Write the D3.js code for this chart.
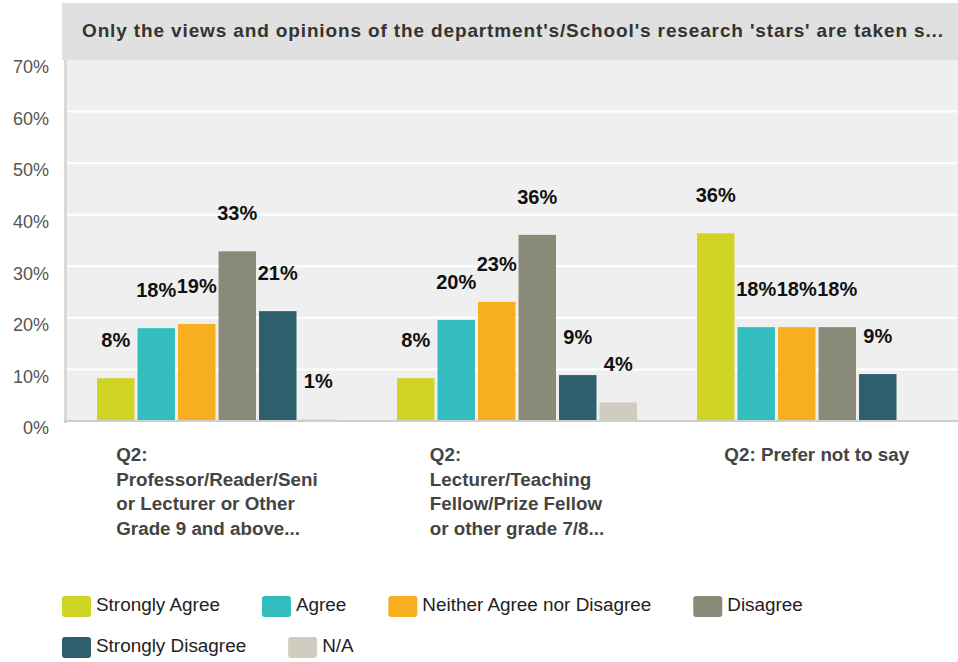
<!DOCTYPE html>
<html>
<head>
<meta charset="utf-8">
<script src="https://cdn.jsdelivr.net/npm/d3@7"></script>
<style>
  html, body { margin: 0; padding: 0; background: #ffffff; }
  svg { display: block; font-family: "Liberation Sans", Arial, Helvetica, sans-serif; }
</style>
</head>
<body>
<svg id="chart" width="958" height="662"></svg>
<script>
const title = "Only the views and opinions of the department's/School's research 'stars' are taken s...";
const groups = ["Q2: Professor/Reader/Senior Lecturer or Other Grade 9 and above...",
                "Q2: Lecturer/Teaching Fellow/Prize Fellow or other grade 7/8...",
                "Q2: Prefer not to say"];
const groupLabelLines = [
  ["Q2:", "Professor/Reader/Seni", "or Lecturer or Other", "Grade 9 and above..."],
  ["Q2:", "Lecturer/Teaching", "Fellow/Prize Fellow", "or other grade 7/8..."],
  ["Q2: Prefer not to say"]
];
const seriesNames = ["Strongly Agree", "Agree", "Neither Agree nor Disagree", "Disagree", "Strongly Disagree", "N/A"];
const seriesColors = ["#d0d426", "#33bdbf", "#f7ae20", "#898a78", "#2d5f6c", "#cfcdbf"];
// values in percent, per series, per group
const stronglyAgree    = [8.3, 8.3, 36.4];
const agree            = [18.0, 19.6, 18.2];
const neither          = [18.8, 23.1, 18.2];
const disagree         = [32.9, 36.1, 18.2];
const stronglyDisagree = [21.3, 8.9, 9.1];
const notApplicable    = [0.3, 3.6, null];
const valueLabels = [
  ["8%", "18%", "19%", "33%", "21%", "1%"],
  ["8%", "20%", "23%", "36%", "9%", "4%"],
  ["36%", "18%", "18%", "18%", "9%", null]
];
const yTicks = [0, 10, 20, 30, 40, 50, 60, 70];

const seriesValues = [stronglyAgree, agree, neither, disagree, stronglyDisagree, notApplicable];

const svg = d3.select("#chart");
const plotLeft = 64, plotRight = 958, plotTop = 60, plotBottom = 421;

// Title band
svg.append("rect").attr("x", 62).attr("y", 3).attr("width", 958 - 62).attr("height", plotTop - 3)
  .attr("fill", "#e0e0e0");
svg.append("text").attr("x", 82).attr("y", 37)
  .attr("font-size", 19).attr("font-weight", "bold").attr("fill", "#333")
  .attr("textLength", 861).attr("lengthAdjust", "spacing")
  .text(title);

// Plot background
svg.append("rect").attr("x", plotLeft).attr("y", plotTop)
  .attr("width", plotRight - plotLeft).attr("height", plotBottom - plotTop)
  .attr("fill", "#efefef");

const y = d3.scaleLinear().domain([0, 70]).range([plotBottom, plotTop]);
const x0 = d3.scaleBand().domain(groups).range([67, 967]).paddingInner(0).paddingOuter(0);
const x1 = d3.scaleBand().domain(seriesNames).range([30, 270]).paddingInner(0.075).paddingOuter(0);

// gridlines
svg.append("g").selectAll("line").data(yTicks.filter(d => d > 0 && d < 70)).join("line")
  .attr("x1", plotLeft).attr("x2", plotRight)
  .attr("y1", d => y(d)).attr("y2", d => y(d))
  .attr("stroke", "#ffffff").attr("stroke-width", 2);

// left axis line
svg.append("rect").attr("x", plotLeft).attr("y", plotTop).attr("width", 3).attr("height", plotBottom - plotTop + 2)
  .attr("fill", "#d9d9d9");

// y-axis labels
const yAxis = d3.axisLeft(y).tickValues(yTicks).tickFormat(d => d + "%").tickSize(0).tickPadding(0);
const yg = svg.append("g").attr("transform", "translate(49,7)").call(yAxis);
yg.select(".domain").remove();
yg.selectAll("text").attr("font-size", 18).attr("fill", "#555")
  .attr("font-family", "'Liberation Sans', Arial, sans-serif");

// bars
const gGroups = svg.append("g").selectAll("g").data(groups).join("g")
  .attr("transform", d => `translate(${x0(d)},0)`);

gGroups.each(function(g, gi) {
  const sel = d3.select(this);
  const data = seriesNames.map((s, si) => ({ s, si, v: seriesValues[si][gi], label: valueLabels[gi][si] }))
    .filter(d => d.v !== null && d.v !== undefined);
  sel.selectAll("rect").data(data).join("rect")
    .attr("x", d => x1(d.s)).attr("width", x1.bandwidth())
    .attr("y", d => y(d.v)).attr("height", d => y(0) - y(d.v))
    .attr("fill", d => seriesColors[d.si]);
  sel.selectAll("text.val").data(data.filter(d => d.label)).join("text")
    .attr("class", "val")
    .attr("x", d => x1(d.s) + x1.bandwidth() / 2)
    .attr("y", d => y(d.v) - 31)
    .attr("text-anchor", "middle")
    .attr("font-size", 20).attr("font-weight", "bold").attr("fill", "#111")
    .text(d => d.label);
});

// baseline
svg.append("rect").attr("x", plotLeft).attr("y", plotBottom - 1).attr("width", plotRight - plotLeft).attr("height", 2)
  .attr("fill", "#cfcfcf");

// category labels: block centered under group, lines left aligned
groups.forEach((g, gi) => {
  const t = svg.append("text").attr("font-size", 18.8).attr("font-weight", "bold").attr("fill", "#444");
  groupLabelLines[gi].forEach((line, li) => {
    t.append("tspan").attr("x", 0).attr("y", 461 + li * 24.6).text(line);
  });
  const w = t.node().getBBox().width;
  const cx = x0(g) + x0.bandwidth() / 2;
  t.attr("transform", `translate(${cx - w / 2},0)`);
});

// legend
const legend = svg.append("g");
let lx = 62;
const rowY = [596, 637];
let row = 0;
seriesNames.forEach((s, i) => {
  const item = legend.append("g");
  item.append("rect").attr("x", 0).attr("y", 0).attr("width", 29).attr("height", 21).attr("rx", 3)
    .attr("fill", seriesColors[i]);
  const t = item.append("text").attr("x", 34).attr("y", 14.5).attr("font-size", 18.9).attr("fill", "#222").text(s);
  const w = 34 + t.node().getComputedTextLength();
  if (lx + w > 850 && lx > 62) { row++; lx = 62; }
  item.attr("transform", `translate(${lx},${rowY[row]})`);
  lx += w + 42;
});
</script>
</body>
</html>
